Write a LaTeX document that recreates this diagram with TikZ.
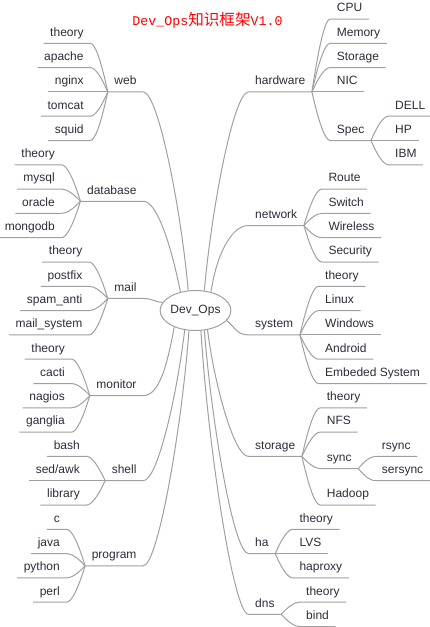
\documentclass[tikz,border=0pt]{standalone}
\usepackage{fontspec}
\setmainfont{Liberation Sans}
\newfontfamily\monott{Liberation Mono}
\newfontfamily\cjk{Noto Sans CJK SC}
\usetikzlibrary{shapes.geometric,calc}
\definecolor{twigc}{RGB}{160,160,160}
\definecolor{inkc}{RGB}{42,44,58}

\begin{document}
\begin{tikzpicture}[x=1pt,y=-1pt,
  topic/.style={font=\fontsize{12}{14}\selectfont, text=inkc, inner xsep=6.5pt,
    inner ysep=4pt, text height=9pt, text depth=3pt},
  lnode/.style={topic, anchor=south east},
  rnode/.style={topic, anchor=south west},
  hub/.style={ellipse, draw=twigc, line width=1pt, minimum width=67pt,
    minimum height=40pt, inner sep=0pt, font=\fontsize{12}{14}\selectfont, text=inkc},
  twig/.style={draw=twigc, line width=1pt},
  % 分叉曲线：控制点取在拐角附近
  bough/.style={to path={.. controls ($(\tikztostart)!0.667!($(\tikztostart |- \tikztotarget)!0.6!(\tikztotarget)$)$)
    and ($(\tikztotarget)!0.267!(\tikztostart |- \tikztotarget)$) .. (\tikztotarget)}}]
  \useasboundingbox (0,0) rectangle (430,627);
  % 标题
  \node[anchor=base, text=red] (title) at (207.5,25)
    {\monott\fontsize{13.3}{16}\selectfont Dev\_Ops\cjk\fontsize{15.6}{16}\selectfont 知识框架\monott\fontsize{13.3}{16}\selectfont V1.0};
  % 中心
  \node[hub] (dev) at (195.5,310.5) {Dev\_Ops};

  % 右侧一级分支
  \node[rnode] (hw) at (248.5,91.9) {hardware};
  \node[rnode] (net) at (248.5,225.55) {network};
  \node[rnode] (sys) at (248.5,334.9) {system};
  \node[rnode] (sto) at (248.5,456.4) {storage};
  \node[rnode] (ha) at (248.5,553.6) {ha};
  \node[rnode] (dns) at (248.5,614.35) {dns};
  \draw[twig] (dev.66) .. controls +(7,-80) and +(-15,0) .. (hw.south west) -- (hw.south east);
  \draw[twig] (dev.50) .. controls +(5,-35) and +(-18,0) .. (net.south west) -- (net.south east);
  \draw[twig] (dev.342) .. controls +(8,6) and +(-12,0) .. (sys.south west) -- (sys.south east);
  \draw[twig] (dev.302) .. controls +(6,50) and +(-15,0) .. (sto.south west) -- (sto.south east);
  \draw[twig] (dev.294) .. controls +(7,90) and +(-15,0) .. (ha.south west) -- (ha.south east);
  \draw[twig] (dev.285) .. controls +(7,115) and +(-15,0) .. (dns.south west) -- (dns.south east);

  % 左侧一级分支
  \node[lnode] (web) at (143.2,91.9) {web};
  \node[lnode] (db) at (143.2,201.25) {database};
  \node[lnode] (mail) at (143.2,298.45) {mail};
  \node[lnode] (mon) at (143.2,395.65) {monitor};
  \node[lnode] (shell) at (143.2,480.7) {shell};
  \node[lnode] (prog) at (143.2,565.75) {program};
  \draw[twig] (dev.110) .. controls +(-7,-80) and +(15,0) .. (web.south east) -- (web.south west);
  \draw[twig] (dev.129) .. controls +(-8,-40) and +(15,0) .. (db.south east) -- (db.south west);
  \draw[twig] (dev.166) .. controls +(-8,0) and +(10,0) .. (mail.south east) -- (mail.south west);
  \draw[twig] (dev.218) .. controls +(-6,30) and +(18,0) .. (mon.south east) -- (mon.south west);
  \draw[twig] (dev.241) .. controls +(-7,60) and +(15,0) .. (shell.south east) -- (shell.south west);
  \draw[twig] (dev.252) .. controls +(-7,95) and +(15,0) .. (prog.south east) -- (prog.south west);

  % hardware
  \node[rnode] (cpu) at (330.2,19) {CPU};
  \node[rnode] (mem) at (330.2,43.3) {Memory};
  \node[rnode] (hwsto) at (330.2,67.6) {Storage};
  \node[rnode] (nic) at (330.2,91.9) {NIC};
  \node[rnode] (spec) at (330.2,140.5) {Spec};
  \node[rnode] (dell) at (388.5,116.2) {DELL};
  \node[rnode] (hp) at (388.5,140.5) {HP};
  \node[rnode] (ibm) at (388.5,164.8) {IBM};
  \draw[twig] (hw.south east) to[bough] (cpu.south west) -- (cpu.south east);
  \draw[twig] (hw.south east) to[bough] (mem.south west) -- (mem.south east);
  \draw[twig] (hw.south east) to[bough] (hwsto.south west) -- (hwsto.south east);
  \draw[twig] (hw.south east) -- (nic.south west) -- (nic.south east);
  \draw[twig] (hw.south east) to[bough] (spec.south west) -- (spec.south east);
  \draw[twig] (spec.south east) to[bough] (dell.south west) -- (dell.south east);
  \draw[twig] (spec.south east) -- (hp.south west) -- (hp.south east);
  \draw[twig] (spec.south east) to[bough] (ibm.south west) -- (ibm.south east);

  % network
  \node[rnode] (route) at (321.8,189.1) {Route};
  \node[rnode] (switch) at (321.8,213.4) {Switch};
  \node[rnode] (wireless) at (321.8,237.7) {Wireless};
  \node[rnode] (security) at (321.8,262) {Security};
  \draw[twig] (net.south east) to[bough] (route.south west) -- (route.south east);
  \draw[twig] (net.south east) to[bough] (switch.south west) -- (switch.south east);
  \draw[twig] (net.south east) to[bough] (wireless.south west) -- (wireless.south east);
  \draw[twig] (net.south east) to[bough] (security.south west) -- (security.south east);

  % system
  \node[rnode] (systh) at (318.5,286.3) {theory};
  \node[rnode] (linux) at (318.5,310.6) {Linux};
  \node[rnode] (windows) at (318.5,334.9) {Windows};
  \node[rnode] (android) at (318.5,359.2) {Android};
  \node[rnode] (embed) at (318.5,383.5) {Embeded System};
  \draw[twig] (sys.south east) to[bough] (systh.south west) -- (systh.south east);
  \draw[twig] (sys.south east) to[bough] (linux.south west) -- (linux.south east);
  \draw[twig] (sys.south east) -- (windows.south west) -- (windows.south east);
  \draw[twig] (sys.south east) to[bough] (android.south west) -- (android.south east);
  \draw[twig] (sys.south east) to[bough] (embed.south west) -- (embed.south east);

  % storage
  \node[rnode] (stoth) at (320.2,407.8) {theory};
  \node[rnode] (nfs) at (320.2,432.1) {NFS};
  \node[rnode] (sync) at (320.2,468.55) {sync};
  \node[rnode] (hadoop) at (320.2,505) {Hadoop};
  \node[rnode] (rsync) at (375.2,456.4) {rsync};
  \node[rnode] (sersync) at (375.2,480.7) {sersync};
  \draw[twig] (sto.south east) to[bough] (stoth.south west) -- (stoth.south east);
  \draw[twig] (sto.south east) to[bough] (nfs.south west) -- (nfs.south east);
  \draw[twig] (sto.south east) to[bough] (sync.south west) -- (sync.south east);
  \draw[twig] (sto.south east) to[bough] (hadoop.south west) -- (hadoop.south east);
  \draw[twig] (sync.south east) to[bough] (rsync.south west) -- (rsync.south east);
  \draw[twig] (sync.south east) to[bough] (sersync.south west) -- (sersync.south east);

  % ha
  \node[rnode] (hath) at (292.8,529.3) {theory};
  \node[rnode] (lvs) at (292.8,553.6) {LVS};
  \node[rnode] (haproxy) at (292.8,577.9) {haproxy};
  \draw[twig] (ha.south east) to[bough] (hath.south west) -- (hath.south east);
  \draw[twig] (ha.south east) -- (lvs.south west) -- (lvs.south east);
  \draw[twig] (ha.south east) to[bough] (haproxy.south west) -- (haproxy.south east);

  % dns
  \node[rnode] (dnsth) at (299.5,602.2) {theory};
  \node[rnode] (bind) at (299.5,626.5) {bind};
  \draw[twig] (dns.south east) to[bough] (dnsth.south west) -- (dnsth.south east);
  \draw[twig] (dns.south east) to[bough] (bind.south west) -- (bind.south east);

  % web
  \node[lnode] (webth) at (90.3,43.3) {theory};
  \node[lnode] (apache) at (90.3,67.6) {apache};
  \node[lnode] (nginx) at (90.3,91.9) {nginx};
  \node[lnode] (tomcat) at (90.3,116.2) {tomcat};
  \node[lnode] (squid) at (90.3,140.5) {squid};
  \draw[twig] (web.south west) to[bough] (webth.south east) -- (webth.south west);
  \draw[twig] (web.south west) to[bough] (apache.south east) -- (apache.south west);
  \draw[twig] (web.south west) -- (nginx.south east) -- (nginx.south west);
  \draw[twig] (web.south west) to[bough] (tomcat.south east) -- (tomcat.south west);
  \draw[twig] (web.south west) to[bough] (squid.south east) -- (squid.south west);

  % database
  \node[lnode] (dbth) at (61.5,164.8) {theory};
  \node[lnode] (mysql) at (61.5,189.1) {mysql};
  \node[lnode] (oracle) at (61.5,213.4) {oracle};
  \node[lnode] (mongodb) at (61.5,237.7) {mongodb};
  \draw[twig] (db.south west) to[bough] (dbth.south east) -- (dbth.south west);
  \draw[twig] (db.south west) to[bough] (mysql.south east) -- (mysql.south west);
  \draw[twig] (db.south west) to[bough] (oracle.south east) -- (oracle.south west);
  \draw[twig] (db.south west) to[bough] (mongodb.south east) -- (mongodb.south west);

  % mail
  \node[lnode] (mailth) at (89,262) {theory};
  \node[lnode] (postfix) at (89,286.3) {postfix};
  \node[lnode] (spam) at (89,310.6) {spam\_anti};
  \node[lnode] (mailsys) at (89,334.9) {mail\_system};
  \draw[twig] (mail.south west) to[bough] (mailth.south east) -- (mailth.south west);
  \draw[twig] (mail.south west) to[bough] (postfix.south east) -- (postfix.south west);
  \draw[twig] (mail.south west) to[bough] (spam.south east) -- (spam.south west);
  \draw[twig] (mail.south west) to[bough] (mailsys.south east) -- (mailsys.south west);

  % monitor
  \node[lnode] (month) at (71.5,359.2) {theory};
  \node[lnode] (cacti) at (71.5,383.5) {cacti};
  \node[lnode] (nagios) at (71.5,407.8) {nagios};
  \node[lnode] (ganglia) at (71.5,432.1) {ganglia};
  \draw[twig] (mon.south west) to[bough] (month.south east) -- (month.south west);
  \draw[twig] (mon.south west) to[bough] (cacti.south east) -- (cacti.south west);
  \draw[twig] (mon.south west) to[bough] (nagios.south east) -- (nagios.south west);
  \draw[twig] (mon.south west) to[bough] (ganglia.south east) -- (ganglia.south west);

  % shell
  \node[lnode] (bash) at (86.5,456.4) {bash};
  \node[lnode] (sedawk) at (86.5,480.7) {sed/awk};
  \node[lnode] (library) at (86.5,505) {library};
  \draw[twig] (shell.south west) to[bough] (bash.south east) -- (bash.south west);
  \draw[twig] (shell.south west) -- (sedawk.south east) -- (sedawk.south west);
  \draw[twig] (shell.south west) to[bough] (library.south east) -- (library.south west);

  % program
  \node[lnode] (progc) at (66.5,529.3) {c};
  \node[lnode] (java) at (66.5,553.6) {java};
  \node[lnode] (python) at (66.5,577.9) {python};
  \node[lnode] (perl) at (66.5,602.2) {perl};
  \draw[twig] (prog.south west) to[bough] (progc.south east) -- (progc.south west);
  \draw[twig] (prog.south west) to[bough] (java.south east) -- (java.south west);
  \draw[twig] (prog.south west) to[bough] (python.south east) -- (python.south west);
  \draw[twig] (prog.south west) to[bough] (perl.south east) -- (perl.south west);
\end{tikzpicture}
\end{document}
